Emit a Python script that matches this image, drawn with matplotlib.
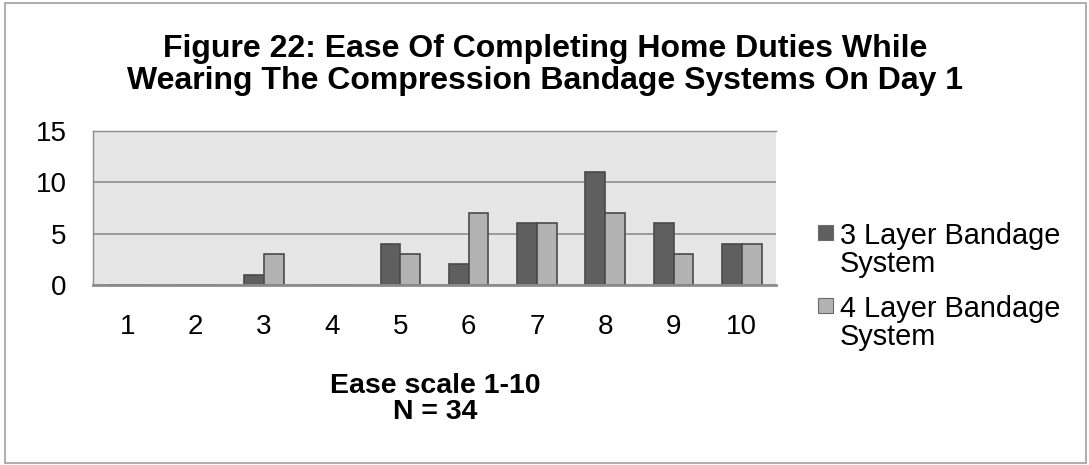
import numpy as np
import matplotlib.pyplot as plt
from matplotlib.patches import Rectangle

categories = ['1', '2', '3', '4', '5', '6', '7', '8', '9', '10']
layer3 = [0, 0, 1, 0, 4, 2, 6, 11, 6, 4]
layer4 = [0, 0, 3, 0, 3, 7, 6, 7, 3, 4]
series_names = ['3 Layer Bandage\nSystem', '4 Layer Bandage\nSystem']
series_colors = ['#5f5f5f', '#b2b2b2']
title_lines = ['Figure 22: Ease Of Completing Home Duties While',
               'Wearing The Compression Bandage Systems On Day 1']
xlabel_lines = ['Ease scale 1-10', 'N = 34']

plt.rcParams['font.family'] = ['Liberation Sans', 'DejaVu Sans']

W, H = 1089, 465
fig = plt.figure(figsize=(W / 100, H / 100), dpi=100)


def fx(px):
    return px / W


def fy(py):
    return 1 - py / H


ax = fig.add_axes([fx(93), fy(285), fx(776) - fx(93), fy(131) - fy(285)])

# chart border
fig.patches.append(Rectangle((fx(5), fy(463)), fx(1086) - fx(5), fy(3) - fy(463),
                             transform=fig.transFigure, fill=False,
                             edgecolor='#a0a0a0', linewidth=1.2))

x = np.arange(len(categories))
w = 0.29
ax.bar(x - w / 2, layer3, w, color=series_colors[0], edgecolor='#4a4a4a', linewidth=1.2, zorder=2)
ax.bar(x + w / 2, layer4, w, color=series_colors[1], edgecolor='#4a4a4a', linewidth=1.2, zorder=2)

ax.set_facecolor('#e6e6e6')
ax.set_xlim(-0.5, 9.5)
ax.set_ylim(0, 15)
ax.set_yticks([0, 5, 10, 15])
ax.set_xticks(x)
ax.set_xticklabels(categories)
ax.yaxis.grid(True, color='#8c8c8c', linewidth=1.2, zorder=0)
ax.set_axisbelow(True)
for s in ['left', 'top']:
    ax.spines[s].set_color('#8c8c8c')
    ax.spines[s].set_linewidth(1.0)
ax.spines['right'].set_visible(False)
ax.spines['bottom'].set_color('#8c8c8c')
ax.spines['bottom'].set_linewidth(2.0)
ax.spines['bottom'].set_zorder(3)
ax.tick_params(length=0, labelsize=20)
ax.tick_params(axis='x', pad=21)
ax.tick_params(axis='y', pad=19)

# axis title under the category labels
for txt, ypx in zip(xlabel_lines, [383, 409]):
    fig.text(fx(435), fy(ypx), txt, ha='center', va='center_baseline',
             fontsize=20.5, fontweight='bold')

# chart title
for txt, ypx in zip(title_lines, [45, 77]):
    fig.text(fx(545), fy(ypx), txt, ha='center', va='center_baseline',
             fontsize=23, fontweight='bold')

# legend, one square per series with a two-line label
for i, (name, col) in enumerate(zip(series_names, series_colors)):
    top = 225 + i * 73
    fig.patches.append(Rectangle((fx(818), fy(top + 15)), fx(833) - fx(818), fy(top) - fy(top + 15),
                                 transform=fig.transFigure, facecolor=col,
                                 edgecolor='#6a6a6a', linewidth=0.8))
    lines = name.split('\n')
    fig.text(fx(840), fy(top + 8), lines[0], ha='left', va='center_baseline', fontsize=20.8)
    fig.text(fx(840), fy(top + 36), lines[1], ha='left', va='center_baseline', fontsize=20.8)

fig.savefig('out.png', dpi=100, facecolor='white')
